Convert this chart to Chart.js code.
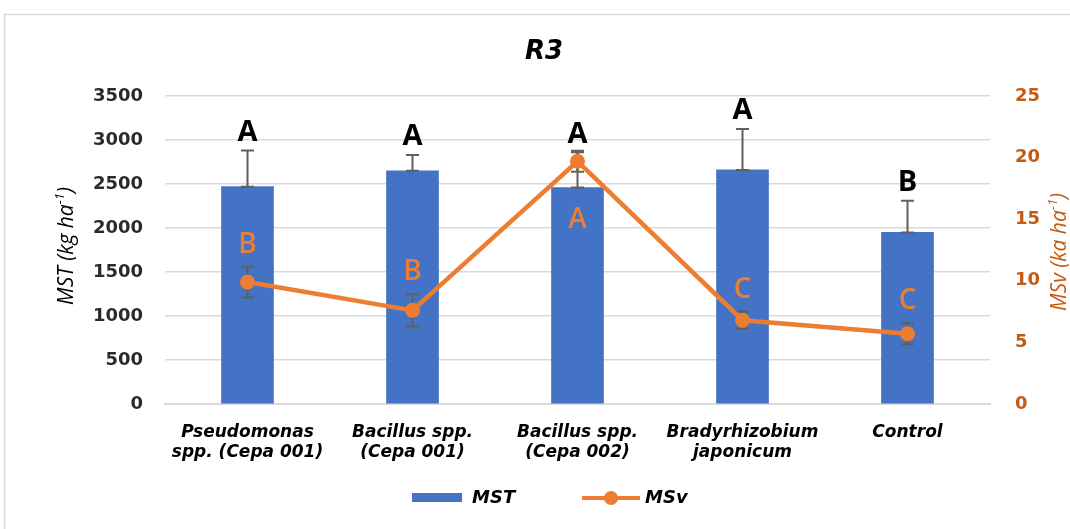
<!DOCTYPE html>
<html>
<head>
<meta charset="utf-8">
<script src="https://cdn.jsdelivr.net/npm/chart.js@4"></script>
<style>
  html, body { margin: 0; padding: 0; background: #fff; }
  #wrap { width: 1070px; height: 529px; }
</style>
</head>
<body>
<div id="wrap"><canvas id="chart"></canvas></div>
<script>
const categories = [["Pseudomonas", "spp. (Cepa 001)"], ["Bacillus spp.", "(Cepa 001)"], ["Bacillus spp.", "(Cepa 002)"], ["Bradyrhizobium", "japonicum"], ["Control"]];
const mst = [2470, 2650, 2460, 2660, 1950];
const mstErr = [410, 180, 400, 465, 360];
const mstLetters = ["A", "A", "A", "A", "B"];
const msv = [9.9, 7.6, 19.7, 6.8, 5.7];
const msvErr = [1.25, 1.3, 0.85, 0.7, 0.85];
const msvLetters = ["B", "B", "A", "C", "C"];
const leftTicks = [0, 500, 1000, 1500, 2000, 2500, 3000, 3500];
const rightTicks = [0, 5, 10, 15, 20, 25];

const BLUE = "#4472C4", ORANGE = "#ED7D31", DARK_ORANGE = "#C55A11", ERR = "#5f5f5f";
const TICK_FONT = { family: "DejaVu Sans", size: 18, weight: "bold" };

function errorBar(ctx, x, yTop, yBottom, capTop, capBottom) {
  ctx.save();
  ctx.strokeStyle = ERR;
  ctx.lineWidth = 2;
  ctx.beginPath();
  ctx.moveTo(x, yTop); ctx.lineTo(x, yBottom);
  if (capTop) { ctx.moveTo(x - 6.5, yTop); ctx.lineTo(x + 6.5, yTop); }
  if (capBottom) { ctx.moveTo(x - 6.5, yBottom); ctx.lineTo(x + 6.5, yBottom); }
  ctx.stroke();
  ctx.restore();
}

function rotatedTitle(ctx, x, y, main, sup, tail, color) {
  ctx.save();
  ctx.translate(x, y);
  ctx.rotate(-Math.PI / 2);
  ctx.fillStyle = color;
  ctx.textBaseline = "middle";
  const big = "italic 21px 'Open Sans'", small = "italic 13px 'Open Sans'";
  ctx.font = big; const w1 = ctx.measureText(main).width, w3 = ctx.measureText(tail).width;
  ctx.font = small; const w2 = ctx.measureText(sup).width;
  let px = -(w1 + w2 + w3) / 2;
  ctx.font = big; ctx.fillText(main, px, 0); px += w1;
  ctx.font = small; ctx.fillText(sup, px, -7); px += w2;
  ctx.font = big; ctx.fillText(tail, px, 0);
  ctx.restore();
}

const decorations = {
  id: "decorations",
  beforeDraw(chart) {
    const ctx = chart.ctx;
    ctx.save();
    ctx.strokeStyle = "#d9d9d9";
    ctx.lineWidth = 1.5;
    ctx.strokeRect(4.5, 14.5, 1200, 600);
    ctx.restore();
  },
  afterDatasetDraw(chart, args) {
    const ctx = chart.ctx, y = chart.scales.y;
    if (args.meta.type === "bar") {
      args.meta.data.forEach((bar, i) => {
        errorBar(ctx, bar.x, y.getPixelForValue(mst[i] + mstErr[i]), y.getPixelForValue(mst[i]), true, true);
      });
    }
  },
  beforeDatasetDraw(chart, args) {
    const ctx = chart.ctx, y1 = chart.scales.y1;
    if (args.meta.type === "line") {
      args.meta.data.forEach((pt, i) => {
        errorBar(ctx, pt.x, y1.getPixelForValue(msv[i] + msvErr[i]), y1.getPixelForValue(msv[i] - msvErr[i]), true, true);
      });
    }
  },
  afterDatasetsDraw(chart) {
    const ctx = chart.ctx, y = chart.scales.y, y1 = chart.scales.y1, x = chart.scales.x;
    ctx.save();
    ctx.textAlign = "center";
    ctx.textBaseline = "middle";
    mst.forEach((v, i) => {
      const cx = x.getPixelForValue(i);
      ctx.font = "bold 29px 'Open Sans'";
      ctx.fillStyle = "#000";
      ctx.fillText(mstLetters[i], cx, y.getPixelForValue(v + mstErr[i]) - 18);
      const barTop = y.getPixelForValue(v);
      const ptY = y1.getPixelForValue(msv[i]);
      let ly = y1.getPixelForValue(msv[i] + msvErr[i]) - 22;
      if (ptY < barTop) ly = barTop + 33;
      ctx.font = "600 28px 'Open Sans'";
      ctx.fillStyle = ORANGE;
      ctx.fillText(msvLetters[i], cx, ly);
    });
    ctx.restore();
  },
  afterDraw(chart) {
    const ctx = chart.ctx;
    ctx.save();
    // title
    ctx.font = "bold oblique 26px 'DejaVu Sans'";
    ctx.fillStyle = "#000";
    ctx.textAlign = "center";
    ctx.textBaseline = "middle";
    ctx.fillText("R3", 544, 52);
    ctx.restore();
    rotatedTitle(ctx, 67, 246, "MST (kg ha", "-1", ")", "#000");
    rotatedTitle(ctx, 1060, 252, "MSv (ka ha", "-1", ")", DARK_ORANGE);
    // legend
    const ds = chart.data.datasets;
    ctx.save();
    ctx.font = "bold oblique 18px 'DejaVu Sans'";
    ctx.textBaseline = "middle";
    ctx.fillStyle = ds[1].backgroundColor;
    ctx.fillRect(412, 493, 50, 9);
    ctx.fillStyle = "#000";
    ctx.fillText(ds[1].label, 472, 498);
    ctx.strokeStyle = ds[0].borderColor;
    ctx.lineWidth = 4;
    ctx.beginPath(); ctx.moveTo(582, 498); ctx.lineTo(640, 498); ctx.stroke();
    ctx.fillStyle = ds[0].borderColor;
    ctx.beginPath(); ctx.arc(611, 498, 7, 0, Math.PI * 2); ctx.fill();
    ctx.fillStyle = "#000";
    ctx.fillText(ds[0].label, 645, 498);
    ctx.restore();
  }
};

new Chart(document.getElementById("chart"), {
  data: {
    labels: categories,
    datasets: [
      {
        type: "line",
        label: "MSv",
        data: msv,
        yAxisID: "y1",
        order: 0,
        borderColor: ORANGE,
        backgroundColor: ORANGE,
        borderWidth: 4.5,
        pointRadius: 7.5,
        pointHoverRadius: 7.5,
        pointBackgroundColor: ORANGE,
        pointBorderWidth: 0,
        tension: 0
      },
      {
        type: "bar",
        label: "MST",
        data: mst,
        yAxisID: "y",
        order: 1,
        backgroundColor: BLUE,
        barThickness: 52
      }
    ]
  },
  options: {
    responsive: true,
    maintainAspectRatio: false,
    animation: false,
    layout: { padding: { top: 96, left: 0, right: 0, bottom: 0 } },
    plugins: { legend: { display: false }, title: { display: false }, tooltip: { enabled: false } },
    scales: {
      x: {
        grid: { display: false },
        border: { color: "#d9d9d9", width: 2 },
        ticks: {
          color: "#000",
          font: { family: "DejaVu Sans", size: 17, weight: "bold", style: "oblique" },
          padding: 10,
          maxRotation: 0,
          autoSkip: false
        },
        afterFit(s) { s.height = 125; }
      },
      y: {
        position: "left",
        min: 0,
        max: 3500,
        afterBuildTicks(s) { s.ticks = leftTicks.map(v => ({ value: v })); },
        grid: { color: "#d9d9d9", lineWidth: 1.5, drawTicks: false },
        border: { display: false },
        ticks: { color: "#2b2b2b", font: TICK_FONT, padding: 22, callback: v => String(v) },
        afterFit(s) { s.width = 165; }
      },
      y1: {
        position: "right",
        min: 0,
        max: 25,
        afterBuildTicks(s) { s.ticks = rightTicks.map(v => ({ value: v })); },
        grid: { display: false, drawTicks: false },
        border: { display: false },
        ticks: { color: DARK_ORANGE, font: TICK_FONT, padding: 25, callback: v => String(v) },
        afterFit(s) { s.width = 80; }
      }
    }
  },
  plugins: [decorations]
});
</script>
</body>
</html>
